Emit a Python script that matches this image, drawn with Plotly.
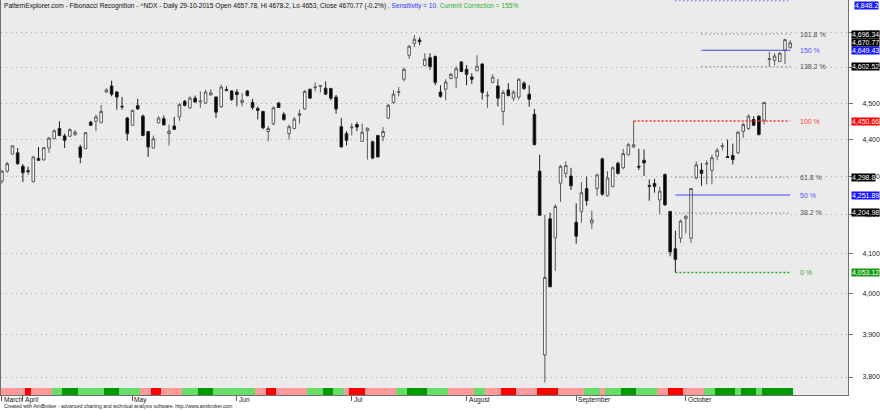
import math
import pandas as pd
import plotly.graph_objects as go

# ---------------- data ----------------
holidays = ["2015-04-03", "2015-05-25", "2015-07-03", "2015-09-07"]
dates = [d.strftime("%Y-%m-%d") for d in pd.bdate_range("2015-03-26", "2015-10-29")
         if d.strftime("%Y-%m-%d") not in holidays]

opens = [4289, 4315, 4361, 4364, 4328, 4316, 4287, 4349, 4345, 4377,
         4403, 4430, 4410, 4409, 4413, 4380, 4375, 4448, 4450, 4446,
         4531, 4548, 4531, 4491, 4459, 4439, 4493, 4464, 4422, 4377,
         4446, 4457, 4416, 4437, 4462, 4505, 4487, 4514, 4504, 4500,
         4523, 4517, 4490, 4538, 4534, 4531, 4502, 4534, 4502, 4485,
         4477, 4422, 4443, 4500, 4469, 4416, 4430, 4466, 4484, 4539,
         4543, 4547, 4542, 4541, 4517, 4435, 4416, 4432, 4441, 4395,
         4424, 4394, 4411, 4408, 4459, 4502, 4530, 4567, 4635, 4669,
         4679, 4606, 4628, 4632, 4531, 4539, 4569, 4571, 4616, 4595,
         4573, 4591, 4610, 4520, 4558, 4548, 4477, 4537, 4514, 4517,
         4556, 4525, 4469, 4315, 3852, 4190, 4141, 4283, 4309, 4302,
         4181, 4209, 4269, 4179, 4269, 4348, 4250, 4274, 4336, 4324,
         4359, 4380, 4328, 4344, 4277, 4282, 4239, 4306, 4209, 4113,
         4140, 4190, 4140, 4297, 4318, 4334, 4317, 4355, 4381, 4354,
         4357, 4364, 4422, 4430, 4455, 4464, 4453, 4623, 4620, 4617,
         4650, 4657.78]
highs = [4318, 4340, 4385, 4377, 4334, 4327, 4355, 4380, 4380, 4407,
         4428, 4450, 4416, 4431, 4426, 4386, 4420, 4451, 4469, 4495,
         4542, 4563, 4534, 4517, 4462, 4482, 4512, 4469, 4423, 4411,
         4464, 4466, 4441, 4462, 4500, 4509, 4519, 4521, 4533, 4537,
         4539, 4519, 4552, 4547, 4536, 4539, 4528, 4537, 4512, 4491,
         4479, 4437, 4491, 4504, 4475, 4441, 4462, 4482, 4537, 4540,
         4558, 4551, 4561, 4543, 4523, 4459, 4423, 4444, 4448, 4444,
         4433, 4397, 4412, 4434, 4498, 4537, 4545, 4600, 4664, 4693,
         4687, 4641, 4641, 4634, 4550, 4567, 4585, 4604, 4618, 4607,
         4584, 4635, 4612, 4533, 4581, 4567, 4537, 4556, 4537, 4569,
         4561, 4550, 4484, 4359, 4200, 4206, 4228, 4332, 4341, 4324,
         4230, 4286, 4300, 4211, 4309, 4351, 4315, 4328, 4341, 4375,
         4391, 4450.66, 4375, 4373, 4293, 4295, 4274, 4309, 4209, 4159,
         4188, 4198, 4269, 4341, 4337, 4344, 4359, 4377, 4391, 4400,
         4389, 4423, 4446, 4469, 4464, 4466, 4504, 4645, 4641, 4644,
         4682, 4678.2]
lows = [4282, 4311, 4359, 4332, 4286, 4306, 4285, 4343, 4344, 4364,
        4400, 4409, 4377, 4407, 4411, 4336, 4375, 4437, 4423, 4446,
        4528, 4519, 4482, 4482, 4397, 4437, 4482, 4409, 4353, 4377,
        4444, 4439, 4384, 4426, 4451, 4491, 4485, 4502, 4487, 4498,
        4521, 4459, 4487, 4533, 4506, 4491, 4491, 4519, 4482, 4455,
        4428, 4395, 4439, 4487, 4451, 4400, 4428, 4444, 4482, 4513,
        4533, 4530, 4523, 4508, 4471, 4379, 4384, 4411, 4423, 4395,
        4346, 4347, 4352, 4395, 4456, 4498, 4519, 4561, 4625, 4658,
        4664, 4606, 4593, 4550, 4515, 4508, 4567, 4542, 4587, 4550,
        4554, 4591, 4510, 4487, 4556, 4491, 4439, 4519, 4506, 4510,
        4537, 4490, 4386, 4199, 3787, 4016, 4057, 4234, 4297, 4265,
        4126, 4180, 4224, 4164, 4250, 4250, 4248, 4272, 4306, 4320,
        4357, 4377, 4318, 4302, 4237, 4258, 4202, 4224, 4094, 4053.12,
        4128, 4152, 4128, 4293, 4276, 4280, 4280, 4344, 4371, 4351,
        4333, 4362, 4405, 4426, 4437, 4411, 4441, 4603, 4607, 4616,
        4610, 4653]
closes = [4315, 4335, 4383, 4335, 4311, 4314, 4353, 4344, 4378, 4404,
          4424, 4411, 4398, 4427, 4420, 4352, 4419, 4439, 4462, 4477,
          4537, 4525, 4517, 4490, 4416, 4480, 4484, 4411, 4380, 4402,
          4459, 4440, 4423, 4428, 4496, 4494, 4514, 4503, 4506, 4531,
          4529, 4475, 4545, 4536, 4510, 4524, 4508, 4521, 4488, 4480,
          4432, 4430, 4487, 4488, 4455, 4435, 4456, 4471, 4533, 4514,
          4545, 4549, 4525, 4514, 4484, 4380, 4398, 4434, 4434, 4420,
          4431, 4350, 4353, 4422, 4494, 4525, 4532, 4595, 4661, 4681,
          4674, 4624, 4603, 4558, 4519, 4559, 4581, 4597, 4589, 4581,
          4567, 4604, 4530, 4522, 4573, 4514, 4530, 4521, 4531, 4567,
          4541, 4511, 4386, 4199, 4041, 4018, 4222, 4328, 4330, 4276,
          4145, 4258, 4237, 4187, 4305, 4254, 4297, 4324, 4309, 4362,
          4386, 4386, 4326, 4337, 4275, 4274, 4262, 4226, 4105, 4086,
          4184, 4197, 4269, 4332, 4309, 4336, 4351, 4371, 4383, 4352,
          4346, 4420, 4441, 4464, 4439, 4414, 4502, 4625, 4633, 4641,
          4680, 4670.77]

# bottom ribbon state per bar: p=light red, r=red, l=light green, g=dark green
strip_states = ("ppppp" "r" "pppp" "ll" "ggg" "lllll" "ggg" "llll" "pp" "rr"
                "pppp" "lll" "ggg" "llllllll" "pp" "rr" "pppppp" "lll" "gg" "ll"
                "p" "rrr" "pppppp" "ll" "gggg" "llll" "ppppp" "ll" "ppp" "rrr"
                "pppp" "rrrr" "ppppp" "lll" "p" "lll" "ggg" "llll" "pp" "rrr"
                "pppp" "ll" "gggg" "l" "ggg" "l" "gggggg")
state_colors = {"p": "#FF9A9A", "r": "#FF0000", "l": "#66DD66", "g": "#009A00"}

month_names = ["March", "April", "May", "Jun", "Jul", "August", "September", "October"]

fib_high = 4450.66          # swing high (Sep 17)
fib_low = 4053.12           # swing low (Sep 29)
fib_high_date = "2015-09-17"
fib_low_date = "2015-09-29"
ext_start_date = "2015-10-06"
fib_ratios = [0.0, 0.382, 0.5, 0.618, 1.0, 1.382, 1.5, 1.618, 2.0]

sensitivity = 10
correction = 155

y_min, y_max = 3758.0, 4796.0

# ---------------- styles ----------------
FONT = "Liberation Sans, Arial, sans-serif"
level_style = {
    0.0:   dict(color="#22A022", dash="2px,2px", width=1.6, text="#33AA33", box="#139A13"),
    0.382: dict(color="#505050", dash="1px,3px", width=1, text="#505050", box="#000000"),
    0.5:   dict(color="#4444FF", dash="solid", width=1, text="#5555FF", box="#1515FF"),
    0.618: dict(color="#505050", dash="1px,3px", width=1, text="#505050", box="#000000"),
    1.0:   dict(color="#FF3030", dash="2px,2px", width=1.6, text="#FF4040", box="#FF0000"),
    1.382: dict(color="#505050", dash="1px,3px", width=1, text="#505050", box="#000000"),
    1.5:   dict(color="#4444FF", dash="solid", width=1, text="#5555FF", box="#1515FF"),
    1.618: dict(color="#505050", dash="1px,3px", width=1, text="#505050", box="#000000"),
    2.0:   dict(color="#3030FF", dash="1px,3px", width=1, text="#5555FF", box="#1515FF"),
}

N = len(dates)
assert N == len(opens) == len(highs) == len(lows) == len(closes) == len(strip_states)

fig = go.Figure()

fig.add_trace(go.Candlestick(
    x=dates, open=opens, high=highs, low=lows, close=closes,
    increasing=dict(line=dict(color="#5A5A5A", width=1), fillcolor="#FFFFFF"),
    decreasing=dict(line=dict(color="#202020", width=1), fillcolor="#000000"),
    whiskerwidth=0, showlegend=False, hoverinfo="skip"))

fig.add_trace(go.Bar(
    x=dates, y=[1] * N, width=1.0, yaxis="y2",
    marker=dict(color=[state_colors[s] for s in strip_states], line=dict(width=0)),
    showlegend=False, hoverinfo="skip"))

rng = fib_high - fib_low
levels = {r: fib_low + r * rng for r in fib_ratios}
annotations = []
for r in fib_ratios:
    v = levels[r]
    st = level_style[r]
    if r == 1.0:
        start = fib_high_date
    elif r > 1.0:
        start = ext_start_date
    else:
        start = fib_low_date
    if v < y_max:
        fig.add_trace(go.Scatter(
            x=[start, dates[-1]], y=[v, v], mode="lines",
            line=dict(color=st["color"], width=st["width"], dash=st["dash"]),
            showlegend=False, hoverinfo="skip"))
        annotations.append(dict(
            x=dates[-1], y=math.log10(v), xref="x", yref="y", xanchor="left",
            yanchor="middle", xshift=8, showarrow=False,
            text=f"{r * 100:g} %", font=dict(family=FONT, size=7, color=st["text"])))
        annotations.append(dict(
            x=1, y=math.log10(v), xref="paper", yref="y", xanchor="left",
            yanchor="middle", xshift=3, showarrow=False, bgcolor=st["box"], borderpad=0,
            text=f"{round(v, 2):,}", font=dict(family=FONT, size=7, color="#FFFFFF")))
    else:
        fig.add_shape(type="line", xref="x", yref="paper", x0=fib_low_date, x1=dates[-1],
                      y0=0.998, y1=0.998,
                      line=dict(color=st["color"], width=1, dash=st["dash"]))
        annotations.append(dict(
            x=1, y=1, xref="paper", yref="paper", xanchor="left", yanchor="top",
            xshift=6, yshift=-1, showarrow=False, bgcolor=st["box"], borderpad=0,
            text=f"{round(v, 1):,}", font=dict(family=FONT, size=7, color="#FFFFFF")))

# last close box
annotations.append(dict(
    x=1, y=math.log10(closes[-1]), xref="paper", yref="y", xanchor="left",
    yanchor="middle", xshift=3, showarrow=False, bgcolor="#000000", borderpad=0,
    text=f"{closes[-1]:,}", font=dict(family=FONT, size=7, color="#FFFFFF")))

# month labels
month_starts = []
prev = None
for d in dates:
    m = d[:7]
    if m != prev:
        month_starts.append(d)
        prev = m
for d, name in zip(month_starts, month_names):
    annotations.append(dict(
        x=d, y=0, xref="x", yref="paper", xanchor="left", yanchor="top",
        xshift=0, yshift=1, showarrow=False, text=name,
        font=dict(family=FONT, size=6.6, color="#202020")))

# title
chg = (closes[-1] / closes[-2] - 1) * 100
title = (f"PatternExplorer.com - Fibonacci Recognition - ^NDX - Daily "
         f"{pd.Timestamp(dates[-1]).strftime('%d-%m-%Y')} Open {opens[-1]:g}, Hi {highs[-1]:g}, "
         f"Lo {lows[-1]:g}, Close {closes[-1]:g} ({chg:.1f}%) "
         f"<span style='color:#3333FF'>, Sensitivity = {sensitivity}</span>"
         f"<span style='color:#33B033'>, Current Correction = {correction}%</span>")
annotations.append(dict(
    x=0, y=1, xref="paper", yref="paper", xanchor="left", yanchor="top",
    xshift=1, yshift=0, showarrow=False, text=title,
    font=dict(family=FONT, size=6.6, color="#101010")))

annotations.append(dict(
    x=0, y=0, xref="paper", yref="paper", xanchor="left", yanchor="bottom",
    xshift=1, yshift=-15.5, showarrow=False,
    text="Created with AmiBroker - advanced charting and technical analysis software. http://www.amibroker.com",
    font=dict(family=FONT, size=5, color="#202020")))

tick_vals = list(range(3800, 4701, 100))
fig.update_layout(
    width=880, height=410,
    margin=dict(l=1, r=32, t=0, b=15),
    paper_bgcolor="#FFFFFF", plot_bgcolor="#EBEBEB",
    bargap=0, showlegend=False,
    font=dict(family=FONT, size=7, color="#202020"),
    xaxis=dict(type="category", range=[-0.19, 162.07], rangeslider=dict(visible=False),
               showgrid=False, showticklabels=False, ticks="outside", ticklen=5,
               tickcolor="#606060", tickvals=month_starts,
               showline=True, linecolor="#707070", linewidth=1, mirror=True,
               anchor="y", fixedrange=True),
    yaxis=dict(type="log", range=[math.log10(y_min), math.log10(y_max)], side="right",
               tickvals=tick_vals, ticktext=[f"{v:,}" for v in tick_vals],
               ticks="outside", ticklen=4, tickcolor="#707070",
               tickfont=dict(family=FONT, size=7, color="#202020"),
               ticklabelstandoff=8,
               showgrid=True, gridcolor="#A8A8A8", gridwidth=1, griddash="1px,4px",
               showline=True, linecolor="#707070", linewidth=1, mirror=True,
               zeroline=False, fixedrange=True, domain=[0, 1]),
    yaxis2=dict(domain=[0, 0.0177], range=[0, 1], visible=False, anchor="x",
                fixedrange=True),
    annotations=annotations,
)

fig.write_html("out.html", config={"displayModeBar": False},
               post_script="document.body.style.margin='0';document.body.style.overflow='hidden';")
